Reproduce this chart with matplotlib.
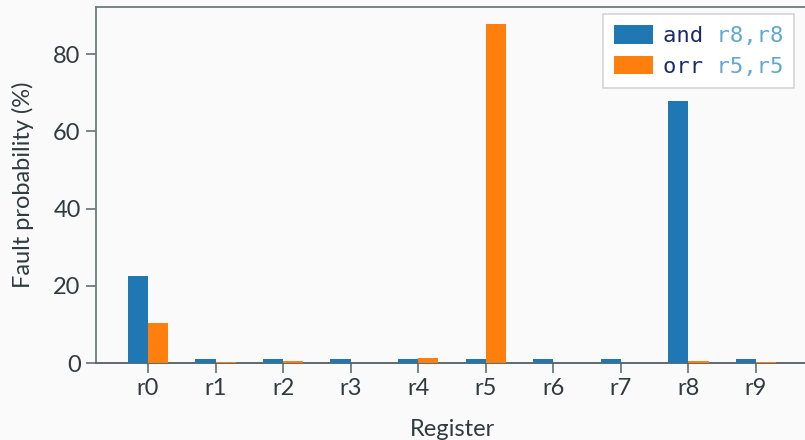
import matplotlib
matplotlib.use("Agg")
import matplotlib.pyplot as plt
from matplotlib.text import Text
import numpy as np

# Fault probability per register for two instructions
registers = ["r0", "r1", "r2", "r3", "r4", "r5", "r6", "r7", "r8", "r9"]
and_r8 = [22.5, 1.0, 1.0, 1.0, 1.0, 1.0, 1.0, 1.0, 67.8, 1.0]
orr_r5 = [10.4, 0.15, 0.4, 0.1, 1.3, 87.8, 0.1, 0.1, 0.4, 0.15]
legend_ops = [("and", "r8,r8"), ("orr", "r5,r5")]

bg = "#fafafa"
text_col = "#2f3b3d"
spine_col = "#6f7b7c"
blue = "#1f77b4"
orange = "#ff7f0e"
FS = 17

plt.rcParams["font.family"] = ["Lato", "DejaVu Sans"]
plt.rcParams["font.size"] = FS

fig = plt.figure(figsize=(8.05, 4.4), dpi=100, facecolor=bg)
ax = fig.add_axes([96 / 805, 1 - 363 / 440, (808 - 96) / 805, (363 - 7) / 440])
ax.set_facecolor(bg)

x = np.arange(len(registers))
w = 0.3
ax.bar(x - w / 2, and_r8, w, color=blue, label="and r8,r8", zorder=3)
ax.bar(x + w / 2, orr_r5, w, color=orange, label="orr r5,r5", zorder=3)

ax.set_xlim(-0.77, len(registers) - 1 + 0.77)
ax.set_ylim(0, 92.2)
ax.set_xticks(x)
ax.set_xticklabels(registers)
ax.set_yticks([0, 20, 40, 60, 80])

for side in ("left", "top"):
    ax.spines[side].set_color(spine_col)
    ax.spines[side].set_linewidth(1.3)
ax.spines["bottom"].set_color("#555d5e")
ax.spines["bottom"].set_linewidth(1.3)
ax.spines["right"].set_visible(False)

ax.tick_params(axis="both", direction="out", length=7, width=1.3,
               color=spine_col, labelcolor=text_col, labelsize=FS, pad=4)
ax.set_xlabel("Register", color=text_col, fontsize=FS, labelpad=14)
ax.set_ylabel("Fault probability (%)", color=text_col, fontsize=FS, labelpad=14)

MONO_FS = 16
mono = {"family": "DejaVu Sans Mono", "size": MONO_FS}
leg = ax.legend(loc="upper right", bbox_to_anchor=(794 / 805, 1 - 14 / 440),
                bbox_transform=fig.transFigure, fancybox=False,
                frameon=True, prop=mono, handlelength=1.75, handleheight=0.9,
                borderpad=0.5, labelspacing=0.45, handletextpad=0.45,
                borderaxespad=0)
leg.get_frame().set_facecolor("white")
leg.get_frame().set_edgecolor("#d4d4d4")
leg.get_frame().set_linewidth(1.2)
leg.get_frame().set_alpha(1)

# Two-tone legend labels: opcode in navy, operands in light blue
fig.canvas.draw()
for t, (op, regs) in zip(leg.get_texts(), legend_ops):
    t.set_color("none")
    parts = [(op + " " * (len(regs) + 1), "#1b2a6b"),
             (" " * (len(op) + 1) + regs, "#5fa8d3")]
    for s, c in parts:
        tt = Text(*t.get_position(), s, color=c, fontfamily="DejaVu Sans Mono",
                  fontsize=MONO_FS, ha=t.get_ha(), va=t.get_va(),
                  transform=t.get_transform(), zorder=20)
        fig.add_artist(tt)

fig.savefig("out.png", dpi=100, facecolor=bg)
